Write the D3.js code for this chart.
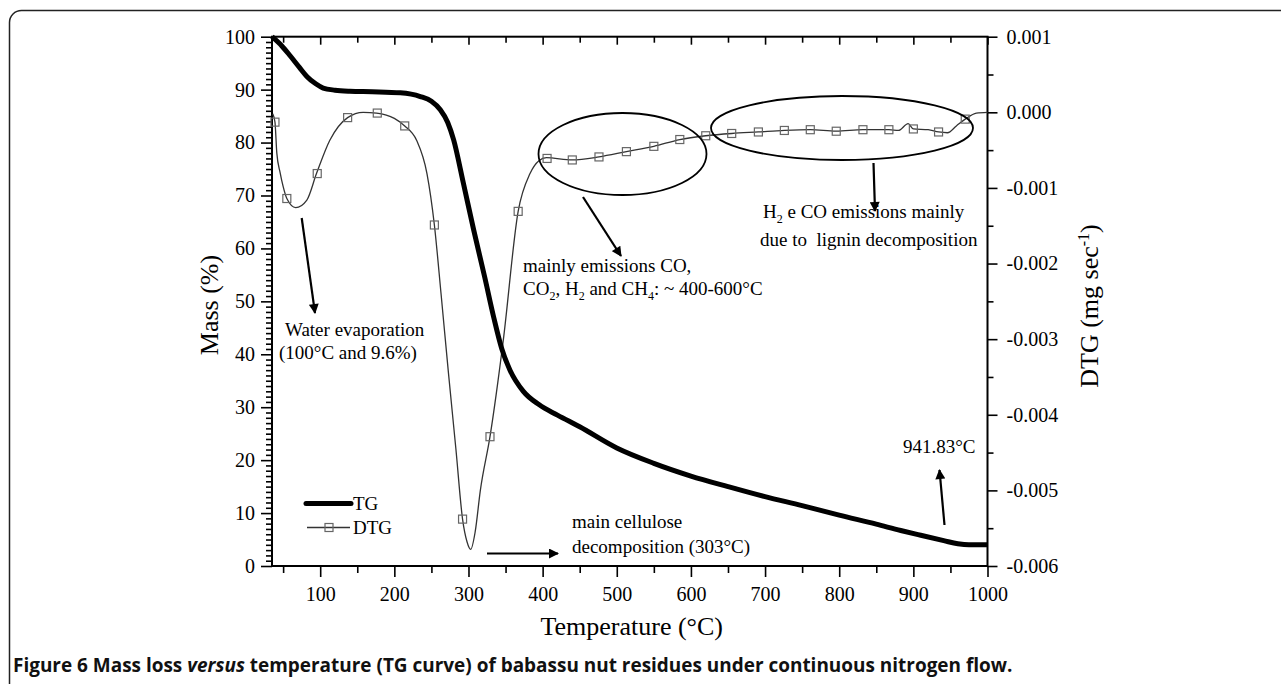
<!DOCTYPE html>
<html><head><meta charset="utf-8">
<script src="https://cdn.jsdelivr.net/npm/d3@7"></script>
<style>
body{margin:0;background:#fff}
svg{display:block}
</style>
</head><body>
<svg id="chart" width="1281" height="684"></svg>
<script>
// ---------- data ----------
const tgTemp = [35, 48, 60, 72, 82, 94, 104, 120, 140, 170, 208, 235, 250, 262, 272, 280, 293, 307, 322, 334, 345, 356, 374, 395, 420, 450, 500, 550, 600, 650, 700, 750, 800, 850, 883, 910, 941, 960, 975, 990, 1000];
const tgMass = [100, 98.3, 96.3, 94.2, 92.5, 91.1, 90.3, 89.9, 89.7, 89.6, 89.4, 88.7, 87.8, 86.2, 83.8, 80.5, 72.4, 63.5, 54.5, 47.0, 41.0, 37.0, 33.0, 30.5, 28.5, 26.3, 22.3, 19.4, 17.0, 15.0, 13.1, 11.4, 9.6, 7.9, 6.7, 5.8, 4.8, 4.2, 4.0, 4.0, 4.0];

const dtgTemp = [36, 39, 41.5, 46, 50, 55, 67, 82, 95, 113, 137, 158, 176, 200, 214, 230, 244, 254, 263, 273, 283, 292, 298, 303, 309, 316, 329, 347, 367, 383, 395, 405, 440, 476, 513, 550, 585, 620, 655, 691, 726, 761, 796, 832, 867, 880, 893, 900, 920, 934, 946, 958, 970, 985, 1000];
const dtgRate = [-0.00002, -0.00013, -0.00054, -0.00080, -0.00098, -0.00114, -0.00126, -0.00116, -0.00081, -0.00037, -0.00007, 0.0, -0.00001, -0.00008, -0.00018, -0.00037, -0.00081, -0.00149, -0.00240, -0.00345, -0.00445, -0.00538, -0.00568, -0.00578, -0.00555, -0.00500, -0.00429, -0.00301, -0.00131, -0.00081, -0.00064, -0.00060, -0.00063, -0.00059, -0.00052, -0.00045, -0.00036, -0.00031, -0.00028, -0.00026, -0.00024, -0.00023, -0.00025, -0.00023, -0.00023, -0.00024, -0.00015, -0.00022, -0.00023, -0.00026, -0.00027, -0.00018, -0.00009, -0.00001, 0.0];

const markerTemp = [39, 55, 96, 137, 177, 214, 254, 292, 329, 367, 406, 440, 476, 513, 550, 585, 620, 655, 691, 726, 761, 796, 832, 867, 900, 934, 970];
const markerRate = [-0.00013, -0.00114, -0.00081, -0.00007, -0.00001, -0.00018, -0.00149, -0.00538, -0.00429, -0.00131, -0.00061, -0.00063, -0.00059, -0.00052, -0.00045, -0.00036, -0.00031, -0.00028, -0.00026, -0.00024, -0.00023, -0.00025, -0.00023, -0.00023, -0.00022, -0.00026, -0.00009];

const tempTicks = [100, 200, 300, 400, 500, 600, 700, 800, 900, 1000];
const tempMinor = [50, 150, 250, 350, 450, 550, 650, 750, 850, 950];
const massTicks = [0, 10, 20, 30, 40, 50, 60, 70, 80, 90, 100];
const dtgTicks = [0.001, 0.000, -0.001, -0.002, -0.003, -0.004, -0.005, -0.006];
const dtgMinor = [0.0005, -0.0005, -0.0015, -0.0025, -0.0035, -0.0045, -0.0055];
const seriesNames = ["TG", "DTG"];

// ---------- layout ----------
const svg = d3.select("#chart");
const L = 272, R = 987.5, T = 36.7, B = 566;
const x = d3.scaleLinear().domain([35, 1000]).range([L, R]);
const yL = d3.scaleLinear().domain([0, 100]).range([B, T]);
const yR = d3.scaleLinear().domain([-0.006, 0.001]).range([B, T]);
const serif = "'Liberation Serif','Times New Roman',serif";

// frame border
svg.append("rect").attr("x", 9.5).attr("y", 10.5).attr("width", 1300).attr("height", 700)
  .attr("rx", 12).attr("fill", "none").attr("stroke", "#222").attr("stroke-width", 1.5);

const defs = svg.append("defs");
defs.append("marker").attr("id", "arr").attr("viewBox", "0 0 10 10").attr("refX", 9).attr("refY", 5)
  .attr("markerWidth", 12).attr("markerHeight", 10).attr("markerUnits", "userSpaceOnUse")
  .attr("orient", "auto").append("path").attr("d", "M0,0 L10,5 L0,10 Z").attr("fill", "#000");

function styleAxis(g) {
  g.select(".domain").remove();
  g.selectAll("line").attr("stroke", "#000").attr("stroke-width", 1.6);
  g.selectAll("text").attr("font-family", serif).attr("font-size", 20).attr("fill", "#000");
}

// minor ticks
svg.append("g").attr("transform", `translate(0,${B})`)
  .call(d3.axisBottom(x).tickValues(tempMinor).tickSize(7).tickFormat("")).call(styleAxis);
svg.append("g").attr("transform", `translate(0,${T})`)
  .call(d3.axisBottom(x).tickValues(tempMinor).tickSize(6).tickFormat("")).call(styleAxis);
svg.append("g").attr("transform", `translate(${L},0)`)
  .call(d3.axisLeft(yL).tickValues(d3.range(1, 100).filter(v => v % 10 !== 0)).tickSize(6).tickFormat("")).call(styleAxis);
svg.append("g").attr("transform", `translate(${R},0)`)
  .call(d3.axisRight(yR).tickValues(dtgMinor).tickSize(6).tickFormat("")).call(styleAxis);

// major ticks
svg.append("g").attr("transform", `translate(0,${B})`)
  .call(d3.axisBottom(x).tickValues(tempTicks).tickSize(11).tickPadding(10).tickFormat(d3.format("d"))).call(styleAxis);
svg.append("g").attr("transform", `translate(0,${T})`)
  .call(d3.axisBottom(x).tickValues(tempTicks).tickSize(8).tickFormat("")).call(styleAxis);
svg.append("g").attr("transform", `translate(${L},0)`)
  .call(d3.axisLeft(yL).tickValues(massTicks).tickSize(11).tickPadding(6).tickFormat(d3.format("d"))).call(styleAxis);
svg.append("g").attr("transform", `translate(${R},0)`)
  .call(d3.axisRight(yR).tickValues(dtgTicks).tickSize(10).tickPadding(9).tickFormat(d => d.toFixed(3))).call(styleAxis);

// frame lines
svg.append("rect").attr("x", L).attr("y", T).attr("width", R - L).attr("height", B - T)
  .attr("fill", "none").attr("stroke", "#000").attr("stroke-width", 2);

// axis titles
svg.append("text").attr("x", (L + R) / 2 + 2).attr("y", 635).attr("text-anchor", "middle")
  .attr("font-family", serif).attr("font-size", 26).text("Temperature (°C)");
svg.append("text").attr("transform", "translate(218,305) rotate(-90)").attr("text-anchor", "middle")
  .attr("font-family", serif).attr("font-size", 26).text("Mass (%)");
const rt = svg.append("text").attr("transform", "translate(1098,306) rotate(-90)").attr("text-anchor", "middle")
  .attr("font-family", serif).attr("font-size", 26);
rt.append("tspan").text("DTG (mg sec");
rt.append("tspan").attr("dy", -9).attr("font-size", 16).text("-1");
rt.append("tspan").attr("dy", 9).text(")");

// ---------- series ----------
const tgData = tgTemp.map((t, i) => [t, tgMass[i]]);
const dtgData = dtgTemp.map((t, i) => [t, dtgRate[i]]);
const mData = markerTemp.map((t, i) => [t, markerRate[i]]);

svg.append("path").datum(dtgData)
  .attr("d", d3.line().x(d => x(d[0])).y(d => yR(d[1])).curve(d3.curveMonotoneX))
  .attr("fill", "none").attr("stroke", "#333").attr("stroke-width", 1.3);
svg.append("g").selectAll("rect").data(mData).join("rect")
  .attr("x", d => x(d[0]) - 4).attr("y", d => yR(d[1]) - 4).attr("width", 8).attr("height", 8)
  .attr("fill", "none").attr("stroke", "#666").attr("stroke-width", 1.2);
svg.append("path").datum(tgData)
  .attr("d", d3.line().x(d => x(d[0])).y(d => yL(d[1])).curve(d3.curveMonotoneX))
  .attr("fill", "none").attr("stroke", "#000").attr("stroke-width", 5).attr("stroke-linejoin", "round");

// ---------- legend ----------
const lg = svg.append("g").attr("font-family", serif).attr("font-size", 19);
lg.append("line").attr("x1", 306).attr("x2", 351).attr("y1", 503.5).attr("y2", 503.5)
  .attr("stroke", "#000").attr("stroke-width", 5).attr("stroke-linecap", "round");
lg.append("text").attr("x", 353).attr("y", 503.5).attr("dominant-baseline", "central").text(seriesNames[0]);
lg.append("line").attr("x1", 307).attr("x2", 350).attr("y1", 527.5).attr("y2", 527.5)
  .attr("stroke", "#333").attr("stroke-width", 1.3);
lg.append("rect").attr("x", 325).attr("y", 523.5).attr("width", 8).attr("height", 8)
  .attr("fill", "none").attr("stroke", "#666").attr("stroke-width", 1.2);
lg.append("text").attr("x", 353).attr("y", 527.5).attr("dominant-baseline", "central").text(seriesNames[1]);

// ---------- annotations ----------
const an = svg.append("g").attr("font-family", serif).attr("font-size", 19).attr("fill", "#000");
function arrow(x1, y1, x2, y2) {
  an.append("line").attr("x1", x1).attr("y1", y1).attr("x2", x2).attr("y2", y2)
    .attr("stroke", "#000").attr("stroke-width", 2.2).attr("marker-end", "url(#arr)");
}
an.append("ellipse").attr("cx", 622.5).attr("cy", 154).attr("rx", 84).attr("ry", 41)
  .attr("fill", "none").attr("stroke", "#000").attr("stroke-width", 1.8);
an.append("ellipse").attr("cx", 842).attr("cy", 128).attr("rx", 131).attr("ry", 32)
  .attr("fill", "none").attr("stroke", "#000").attr("stroke-width", 1.8);

arrow(301.7, 218, 315, 313);
arrow(583, 197, 621, 256);
arrow(873.5, 163, 875, 211);
arrow(487, 553.5, 558, 553.5);
arrow(944.5, 525, 939.5, 470);

function txt(xp, yp, parts) {
  const t = an.append("text").attr("x", xp).attr("y", yp);
  parts.forEach(p => {
    if (typeof p === "string") t.append("tspan").text(p);
    else t.append("tspan").attr("dy", p.dy).attr("font-size", p.fs || 19).text(p.t);
  });
  return t;
}
txt(285, 336, ["Water evaporation"]);
txt(279, 359, ["(100°C and 9.6%)"]);
txt(523, 272, ["mainly emissions CO,"]);
txt(523, 295, ["CO", {t: "2", dy: 5, fs: 12}, {t: ", H", dy: -5}, {t: "2", dy: 5, fs: 12}, {t: " and CH", dy: -5}, {t: "4", dy: 5, fs: 12}, {t: ": ~ 400-600°C", dy: -5}]);
txt(763, 218, ["H", {t: "2", dy: 5, fs: 12}, {t: " e CO emissions mainly", dy: -5}]);
txt(760, 246, ["due to \u00a0lignin decomposition"]);
txt(572, 528, ["main cellulose"]);
txt(572, 553, ["decomposition (303°C)"]);
txt(903, 453, ["941.83°C"]);

// ---------- caption ----------
const cap = svg.append("text").attr("x", 13).attr("y", 672)
  .attr("font-family", "'Open Sans','Noto Sans',sans-serif").attr("font-size", 16)
  .attr("font-weight", "bold").attr("fill", "#111");
cap.append("tspan").text("Figure 6");
cap.append("tspan").text(" Mass loss ");
cap.append("tspan").attr("font-style", "italic").text("versus");
cap.append("tspan").text(" temperature (TG curve) of babassu nut residues under continuous nitrogen flow.");
const w = cap.node().getComputedTextLength();
cap.attr("font-size", 16 * 1000 / w);
</script>
</body></html>
